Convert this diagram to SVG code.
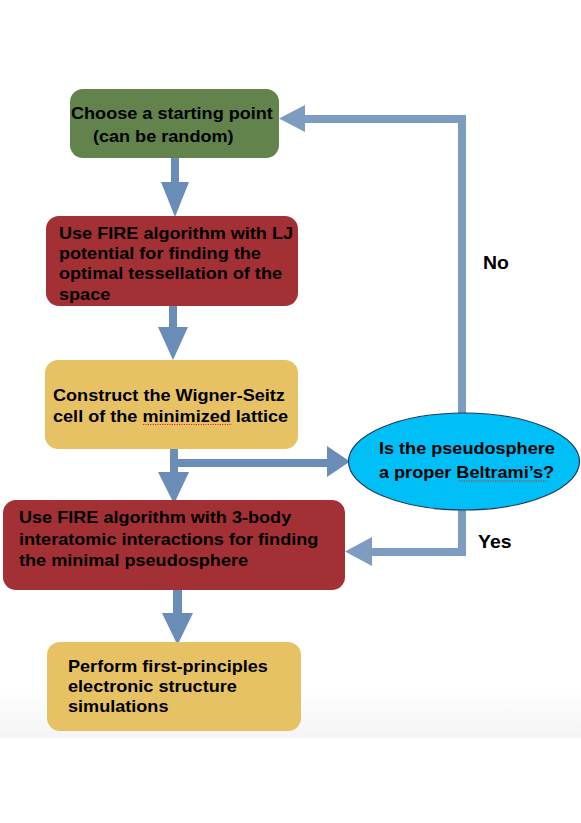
<svg xmlns="http://www.w3.org/2000/svg" width="581" height="823" viewBox="0 0 581 823">
<defs>
<linearGradient id="bg" gradientUnits="userSpaceOnUse" x1="0" y1="0" x2="0" y2="738">
<stop offset="0" stop-color="#ffffff"/>
<stop offset="0.93" stop-color="#ffffff"/>
<stop offset="1" stop-color="#f4f4f4"/>
</linearGradient>
</defs>
<style>
.t{font-family:"Liberation Sans",Arial,sans-serif;font-weight:bold;font-size:16.5px;fill:#000}
.lbl{font-family:"Liberation Sans",Arial,sans-serif;font-weight:bold;font-size:18px;fill:#000}
.arr{fill:#6a8db7}
.loop{fill:none;stroke:#7e9bc0;stroke-width:8}
.loophead{fill:#7e9bc0}
.spell{fill:none;stroke:#e0282a;stroke-width:1.2;stroke-dasharray:1.2 1.2}
</style>
<rect x="0" y="0" width="581" height="823" fill="#ffffff"/>
<rect x="0" y="0" width="581" height="738" fill="url(#bg)"/>

<g id="connectors">
<path class="loop" d="M462,413 V119 H304"/>
<polygon class="loophead" points="305,105 305,132 279,118.5"/>
<path class="loop" d="M462,505 V552 H371"/>
<polygon class="loophead" points="372,537 372,566 345,551.5"/>
<polygon class="arr" points="171,158 179,158 179,182 189,182 175,217 161,182 171,182"/>
<polygon class="arr" points="169,305 177,305 177,327 188,327 173,360 158,327 169,327"/>
<polygon class="arr" points="170,449 178,449 178,459 327,459 327,446 350,461.5 327,477 327,467 178,467 178,472 189,472 174,504 158,472 170,472"/>
<polygon class="arr" points="173,590 182,590 182,613 193,613 177.5,645 162,613 173,613"/>
</g>

<g id="node-start">
<rect x="70" y="89" width="209" height="69" rx="13" fill="#62844c"/>
<text class="t" transform="matrix(1.097 0 0 1 71 119)"><tspan x="0" y="0">Choose a starting point</tspan><tspan x="20" y="23">(can be random)</tspan></text>
</g>

<g id="node-fire-lj">
<rect x="46" y="216" width="252" height="90" rx="13" fill="#a33034"/>
<text class="t" transform="matrix(1.097 0 0 1 59 239)"><tspan x="0" y="0">Use FIRE algorithm with LJ</tspan><tspan x="0" y="20">potential for finding the</tspan><tspan x="0" y="40">optimal tessellation of the</tspan><tspan x="0" y="61">space</tspan></text>
</g>

<g id="node-wigner">
<rect x="45" y="360" width="253" height="89" rx="13" fill="#e6c264"/>
<text class="t" transform="matrix(1.097 0 0 1 53 401)"><tspan x="0" y="0">Construct the Wigner-Seitz</tspan><tspan x="0" y="21">cell of the minimized lattice</tspan></text>
<path class="spell" d="M143,424.5 H232"/>
</g>

<g id="node-decision">
<ellipse cx="464" cy="461.5" rx="115.5" ry="48.5" fill="#00bef6" stroke="#23355a" stroke-width="1.2"/>
<text class="t" transform="matrix(1.097 0 0 1 379 454)"><tspan x="0" y="0">Is the pseudosphere</tspan><tspan x="0" y="24">a proper Beltrami’s?</tspan></text>
<path class="spell" d="M459,481 H547"/>
</g>

<g id="node-fire-3body">
<rect x="3" y="500" width="342" height="90" rx="13" fill="#a33034"/>
<text class="t" transform="matrix(1.097 0 0 1 19 523)"><tspan x="0" y="0">Use FIRE algorithm with 3-body</tspan><tspan x="0" y="22">interatomic interactions for finding</tspan><tspan x="0" y="43">the minimal pseudosphere</tspan></text>
</g>

<g id="node-dft">
<rect x="47" y="642" width="254" height="89" rx="13" fill="#e6c264"/>
<text class="t" transform="matrix(1.097 0 0 1 68 672)"><tspan x="0" y="0">Perform first-principles</tspan><tspan x="0" y="20">electronic structure</tspan><tspan x="0" y="40">simulations</tspan></text>
</g>

<g id="labels">
<text class="lbl" transform="matrix(1.08 0 0 1 483 269)">No</text>
<text class="lbl" transform="matrix(1.08 0 0 1 478 548)">Yes</text>
</g>
</svg>
